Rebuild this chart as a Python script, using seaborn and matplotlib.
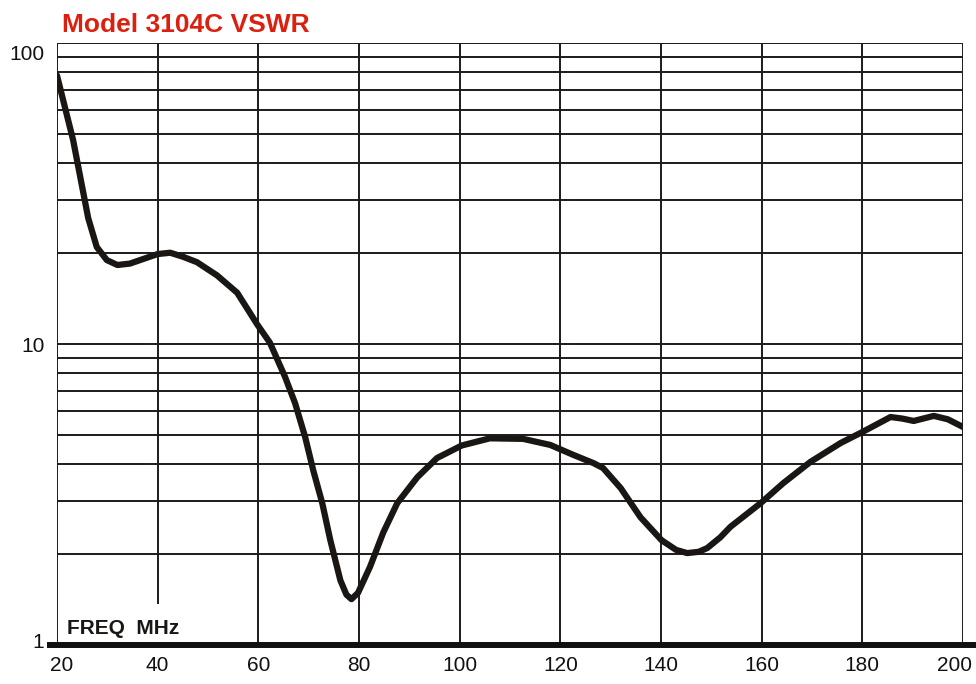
import numpy as np
import pandas as pd
import seaborn as sns
import matplotlib
matplotlib.use("Agg")
import matplotlib.pyplot as plt
from matplotlib.lines import Line2D
from matplotlib.ticker import NullLocator
from matplotlib.transforms import ScaledTranslation

# ---- data ----
freq = [20, 23.2, 26.2, 27.9, 29.9, 32, 34.5, 36.5, 40, 42.5, 45, 47.8, 51.8, 55.8, 59.8,
        62.3, 65.3, 67.3, 69.3, 70.9, 72.7, 74.3, 76.3, 77.5, 78.5, 79.8, 82.2, 84.8,
        87.6, 91.6, 95.5, 100.4, 106, 112.6, 118, 122.6, 126.6, 128.5, 132,
        135.9, 140.1, 143, 145.2, 147.5, 149.2, 151.8, 153.8, 159.8, 164.3, 169.7, 175.7,
        180, 185.6, 188, 190.2, 194.2, 197, 200]
vswr = [78, 47.6, 26.2, 21.0, 19.0, 18.3, 18.5, 19.0, 19.9, 20.1, 19.5, 18.7, 16.9, 14.8, 11.6,
        10.1, 7.78, 6.36, 4.91, 3.81, 2.96, 2.23, 1.64, 1.47, 1.42, 1.49, 1.82, 2.36,
        2.96, 3.61, 4.18, 4.6, 4.86, 4.84, 4.62, 4.28, 4.02, 3.87, 3.32,
        2.66, 2.23, 2.07, 2.02, 2.04, 2.10, 2.28, 2.47, 2.96, 3.45, 4.06, 4.69,
        5.10, 5.72, 5.65, 5.55, 5.77, 5.62, 5.30]

x_ticks = [20, 40, 60, 80, 100, 120, 140, 160, 180, 200]
x_tick_labels = ["20", "40", "60", "80", "100", "120", "140", "160", "180", "200"]
y_ticks = [1, 10, 100]
y_tick_labels = ["1", "10", "100"]
y_grid = [2, 3, 4, 5, 6, 7, 8, 9, 10, 20, 30, 40, 50, 60, 70, 80, 90, 100]
title = "Model 3104C VSWR"
x_label = "FREQ  MHz"

sns.set_style("white")
plt.rcParams["font.family"] = ["Liberation Sans", "DejaVu Sans"]
narrow = ["Liberation Sans Narrow", "Liberation Sans", "DejaVu Sans"]

W, H = 976, 684
fig = plt.figure(figsize=(W / 100, H / 100), dpi=100)
ax = fig.add_axes([57 / W, 1 - 645 / H, (963 - 57) / W, (645 - 43) / H])

grid_col = "#1c1a1a"
# horizontal log grid
ax.hlines(y_grid, x_ticks[0], x_ticks[-1], color=grid_col, lw=1.4, zorder=1)
# vertical grid (the 40 line stops above the axis caption)
ymins = [1.37 if xv == 40 else 1 for xv in x_ticks]
ax.vlines(x_ticks, ymins, 100, color=grid_col, lw=1.4, zorder=1)

df = pd.DataFrame({"freq": freq, "vswr": vswr})
sns.lineplot(data=df, x="freq", y="vswr", ax=ax, color="#1a1614", linewidth=4.5,
             solid_capstyle="round", solid_joinstyle="round", zorder=5)

ax.set_yscale("log")
ax.set_xlim(20, 200)
ax.set_ylim(1, 100)
for s in ax.spines.values():
    s.set_visible(False)
ax.set_xlabel("")
ax.set_ylabel("")

ax.set_xticks(x_ticks, x_tick_labels)
ax.set_yticks(y_ticks, y_tick_labels)
ax.yaxis.set_minor_locator(NullLocator())
ax.tick_params(axis="both", length=0, labelsize=15, colors="#111111")
ax.tick_params(axis="x", pad=8)
ax.tick_params(axis="y", pad=9)

# small label nudges as in the reference
xl = ax.get_xticklabels()
xl[0].set_transform(xl[0].get_transform() + ScaledTranslation(5 / 100, 0, fig.dpi_scale_trans))
xl[-1].set_transform(xl[-1].get_transform() + ScaledTranslation(-9 / 100, 0, fig.dpi_scale_trans))
yl = ax.get_yticklabels()
yl[0].set_transform(yl[0].get_transform() + ScaledTranslation(0, 5 / 100, fig.dpi_scale_trans))
yl[-1].set_transform(yl[-1].get_transform() + ScaledTranslation(0, -9 / 100, fig.dpi_scale_trans))

# thick bottom baseline
ax.add_line(Line2D([-10 / 906, 1 + 13 / 906], [0, 0], transform=ax.transAxes,
                   color="#111111", lw=4.3, clip_on=False, zorder=6,
                   solid_capstyle="butt"))

fig.text(62 / W, 1 - 32.5 / H, title, ha="left", va="baseline", color="#dc2010",
         fontsize=19, fontweight="bold", family=narrow)
fig.text(67 / W, 1 - 634 / H, x_label, ha="left", va="baseline", color="#1a1614",
         fontsize=15, fontweight="bold", family=narrow)

fig.savefig("out.png", dpi=100, facecolor="white")
